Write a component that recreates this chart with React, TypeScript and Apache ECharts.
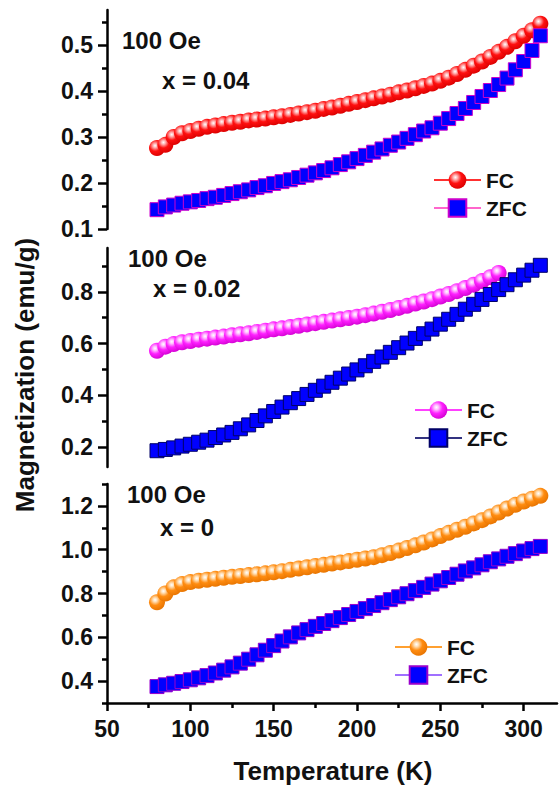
import React, { useEffect, useRef } from "react";
import * as echarts from "echarts";

// ---------- data ----------
const T_FULL = [80, 85, 90, 95, 100, 105, 110, 115, 120, 125, 130, 135, 140, 145, 150, 155, 160, 165, 170, 175, 180, 185, 190, 195, 200, 205, 210, 215, 220, 225, 230, 235, 240, 245, 250, 255, 260, 265, 270, 275, 280, 285, 290, 295, 300, 305, 310];
const T_MID_FC = [80, 85, 90, 95, 100, 105, 110, 115, 120, 125, 130, 135, 140, 145, 150, 155, 160, 165, 170, 175, 180, 185, 190, 195, 200, 205, 210, 215, 220, 225, 230, 235, 240, 245, 250, 255, 260, 265, 270, 275, 280, 285];

// x = 0.04
const FC_004 = [0.276, 0.283, 0.300, 0.308, 0.313, 0.318, 0.322, 0.325, 0.328, 0.331, 0.333, 0.336, 0.338, 0.340, 0.343, 0.345, 0.348, 0.351, 0.354, 0.357, 0.361, 0.364, 0.368, 0.372, 0.376, 0.380, 0.384, 0.388, 0.392, 0.397, 0.401, 0.406, 0.411, 0.416, 0.422, 0.429, 0.437, 0.446, 0.455, 0.464, 0.474, 0.485, 0.496, 0.508, 0.520, 0.532, 0.546];
const ZFC_004 = [0.142, 0.148, 0.152, 0.156, 0.159, 0.162, 0.166, 0.169, 0.173, 0.177, 0.181, 0.185, 0.190, 0.194, 0.199, 0.203, 0.207, 0.212, 0.217, 0.222, 0.227, 0.233, 0.240, 0.246, 0.253, 0.260, 0.267, 0.274, 0.282, 0.289, 0.297, 0.305, 0.313, 0.320, 0.330, 0.340, 0.351, 0.362, 0.375, 0.388, 0.401, 0.414, 0.428, 0.446, 0.464, 0.488, 0.520];
// x = 0.02
const FC_002 = [0.572, 0.588, 0.598, 0.605, 0.610, 0.615, 0.619, 0.623, 0.627, 0.632, 0.636, 0.640, 0.645, 0.650, 0.655, 0.659, 0.664, 0.669, 0.674, 0.679, 0.684, 0.689, 0.694, 0.699, 0.704, 0.710, 0.716, 0.723, 0.730, 0.738, 0.746, 0.755, 0.763, 0.772, 0.782, 0.792, 0.803, 0.815, 0.828, 0.842, 0.857, 0.873];
const ZFC_002 = [0.185, 0.190, 0.196, 0.203, 0.210, 0.218, 0.226, 0.236, 0.246, 0.256, 0.270, 0.285, 0.302, 0.320, 0.337, 0.354, 0.371, 0.387, 0.403, 0.419, 0.435, 0.450, 0.466, 0.482, 0.498, 0.514, 0.531, 0.548, 0.566, 0.584, 0.602, 0.620, 0.638, 0.656, 0.675, 0.694, 0.713, 0.733, 0.752, 0.771, 0.790, 0.809, 0.828, 0.847, 0.865, 0.884, 0.903];
// x = 0
const FC_0 = [0.760, 0.800, 0.828, 0.843, 0.852, 0.858, 0.863, 0.867, 0.872, 0.876, 0.880, 0.884, 0.888, 0.892, 0.897, 0.902, 0.908, 0.914, 0.920, 0.926, 0.931, 0.937, 0.942, 0.948, 0.954, 0.960, 0.966, 0.975, 0.985, 0.996, 1.008, 1.020, 1.033, 1.047, 1.062, 1.077, 1.091, 1.105, 1.120, 1.135, 1.152, 1.170, 1.188, 1.205, 1.220, 1.233, 1.246];
const ZFC_0 = [0.375, 0.383, 0.390, 0.398, 0.406, 0.415, 0.425, 0.437, 0.450, 0.465, 0.482, 0.500, 0.520, 0.541, 0.562, 0.583, 0.602, 0.620, 0.635, 0.650, 0.663, 0.676, 0.690, 0.704, 0.718, 0.731, 0.745, 0.758, 0.772, 0.785, 0.799, 0.813, 0.828, 0.843, 0.858, 0.873, 0.888, 0.903, 0.917, 0.931, 0.945, 0.958, 0.970, 0.982, 0.994, 1.005, 1.015];

// ticks
const X_MAJOR = [50, 100, 150, 200, 250, 300];
const X_MINOR = [75, 125, 175, 225, 275];
const Y_TOP_MAJOR = [0.1, 0.2, 0.3, 0.4, 0.5];
const Y_TOP_MINOR = [0.15, 0.25, 0.35, 0.45, 0.55];
const Y_MID_MAJOR = [0.2, 0.4, 0.6, 0.8];
const Y_MID_MINOR = [0.3, 0.5, 0.7, 0.9];
const Y_BOT_MAJOR = [0.4, 0.6, 0.8, 1.0, 1.2];
const Y_BOT_MINOR = [0.3, 0.5, 0.7, 0.9, 1.1, 1.3];

const FONT = "Liberation Sans, Arial, sans-serif";

const zip = (xs: number[], ys: number[]) => ys.map((v, i) => [xs[i], v]);

const sphere = (light: string, base: string, dark: string) => ({
  type: "radial",
  x: 0.38,
  y: 0.35,
  r: 0.7,
  colorStops: [
    { offset: 0, color: "#ffffff" },
    { offset: 0.18, color: light },
    { offset: 0.5, color: base },
    { offset: 1, color: dark },
  ],
});

export default function App() {
  const ref = useRef<HTMLDivElement>(null);
  useEffect(() => {
    document.body.style.margin = "0";
    const chart = echarts.init(ref.current!, null, { renderer: "svg" });

    const grids = [
      { left: 107, width: 450, top: 10, height: 219 },
      { left: 107, width: 450, top: 248, height: 219 },
      { left: 107, width: 450, top: 484, height: 219 },
    ];

    const hiddenX = (gi: number) => ({
      type: "value",
      gridIndex: gi,
      min: 50,
      max: 320,
      show: false,
    });

    const majorY = (gi: number, min: number, max: number, vals: number[], fmt: (v: number) => string) => ({
      type: "value",
      gridIndex: gi,
      position: "left",
      min,
      max,
      splitLine: { show: false },
      axisLine: { show: true, lineStyle: { color: "#000", width: 2.5 } },
      axisTick: { show: true, length: 9, customValues: vals, lineStyle: { color: "#000", width: 2.5 } },
      axisLabel: {
        show: true,
        customValues: vals,
        formatter: fmt,
        margin: 14,
        fontSize: 23,
        fontWeight: "bold",
        fontFamily: FONT,
        color: "#111",
      },
    });
    const minorY = (gi: number, min: number, max: number, vals: number[]) => ({
      type: "value",
      gridIndex: gi,
      position: "left",
      offset: 0,
      min,
      max,
      splitLine: { show: false },
      axisLine: { show: false },
      axisTick: { show: true, length: 5, customValues: vals, lineStyle: { color: "#000", width: 2.5 } },
      axisLabel: { show: false },
    });

    const f1 = (v: number) => v.toFixed(1);

    const mkSeries = (
      name: string,
      data: number[][],
      gi: number,
      symbol: string,
      size: number,
      color: any,
      lineColor: string,
      border?: string
    ) => ({
      type: "line",
      name,
      xAxisIndex: gi,
      yAxisIndex: gi * 2,
      data,
      symbol,
      symbolSize: size,
      clip: false,
      lineStyle: { color: lineColor, width: 1 },
      itemStyle: border
        ? { color, borderColor: border, borderWidth: 1, opacity: 1 }
        : { color, opacity: 1 },
      emphasis: { disabled: true },
    });

    const red = sphere("#ffb3b3", "#ff1010", "#d80000");
    const mag = sphere("#ffc2ff", "#ff20ff", "#d000d0");
    const org = sphere("#ffe0b8", "#ff8c10", "#e67300");

    const legendBase = {
      orient: "vertical",
      itemWidth: 47,
      itemHeight: 22,
      itemGap: 6,
      selectedMode: false,
      formatter: (n: string) => n.split("_")[0],
      textStyle: { fontSize: 21, fontWeight: "bold", fontFamily: FONT, color: "#111", lineHeight: 22 },
    };

    const txt = (x: number, y: number, s: string, size = 24) => ({
      type: "text",
      x,
      y,
      style: {
        text: s,
        fontSize: size,
        fontWeight: "bold",
        fontFamily: FONT,
        fill: "#111",
        verticalAlign: "middle",
      },
    });

    chart.setOption({
      animation: false,
      backgroundColor: "#fff",
      grid: grids,
      xAxis: [
        hiddenX(0),
        hiddenX(1),
        {
          type: "value",
          gridIndex: 2,
          position: "bottom",
          min: 50,
          max: 320,
          splitLine: { show: false },
          axisLine: { show: true, lineStyle: { color: "#000", width: 2.5 } },
          axisTick: { show: true, length: 8, customValues: X_MAJOR, lineStyle: { color: "#000", width: 2.5 } },
          axisLabel: {
            show: true,
            customValues: X_MAJOR,
            margin: 14,
            fontSize: 23,
            fontWeight: "bold",
            fontFamily: FONT,
            color: "#111",
          },
        },
        {
          type: "value",
          gridIndex: 2,
          position: "bottom",
          offset: 0,
          min: 50,
          max: 320,
          splitLine: { show: false },
          axisLine: { show: false },
          axisTick: { show: true, length: 5, customValues: X_MINOR, lineStyle: { color: "#000", width: 2.5 } },
          axisLabel: { show: false },
        },
      ],
      yAxis: [
        majorY(0, 0.1, 0.576, Y_TOP_MAJOR, f1),
        minorY(0, 0.1, 0.576, Y_TOP_MINOR),
        majorY(1, 0.122, 0.97, Y_MID_MAJOR, f1),
        minorY(1, 0.122, 0.97, Y_MID_MINOR),
        majorY(2, 0.3, 1.3, Y_BOT_MAJOR, f1),
        minorY(2, 0.3, 1.3, Y_BOT_MINOR),
      ],
      legend: [
        { ...legendBase, data: ["FC_a", "ZFC_a"], left: 428, top: 164 },
        { ...legendBase, data: ["FC_b", "ZFC_b"], left: 409, top: 394 },
        { ...legendBase, data: ["FC_c", "ZFC_c"], left: 389, top: 631 },
      ],
      series: [
        mkSeries("FC_a", zip(T_FULL, FC_004), 0, "circle", 16, red, "#ff3030"),
        mkSeries("ZFC_a", zip(T_FULL, ZFC_004), 0, "rect", 14, "#0000ff", "#ff66cc", "#cc00cc"),
        mkSeries("FC_b", zip(T_MID_FC, FC_002), 1, "circle", 16, mag, "#ff40ff"),
        mkSeries("ZFC_b", zip(T_FULL, ZFC_002), 1, "rect", 14, "#0000ff", "#333380", "#000066"),
        mkSeries("FC_c", zip(T_FULL, FC_0), 2, "circle", 16, org, "#ffa030"),
        mkSeries("ZFC_c", zip(T_FULL, ZFC_0), 2, "rect", 14, "#0000ff", "#a070ff", "#9900cc"),
      ],
      graphic: [
        txt(122, 40, "100 Oe"),
        txt(162, 80, "x = 0.04"),
        txt(128, 258, "100 Oe"),
        txt(153, 288, "x = 0.02"),
        txt(127, 494, "100 Oe"),
        txt(160, 527, "x = 0"),
        {
          type: "text",
          x: 333,
          y: 771,
          style: {
            text: "Temperature (K)",
            fontSize: 26,
            fontWeight: "bold",
            fontFamily: FONT,
            fill: "#111",
            align: "center",
            verticalAlign: "middle",
          },
        },
        {
          type: "text",
          x: 25,
          y: 375,
          rotation: Math.PI / 2,
          style: {
            text: "Magnetization (emu/g)",
            fontSize: 26,
            fontWeight: "bold",
            fontFamily: FONT,
            fill: "#111",
            align: "center",
            verticalAlign: "middle",
          },
        },
      ],
    });
    return () => chart.dispose();
  }, []);
  return <div ref={ref} style={{ width: 560, height: 787 }} />;
}
